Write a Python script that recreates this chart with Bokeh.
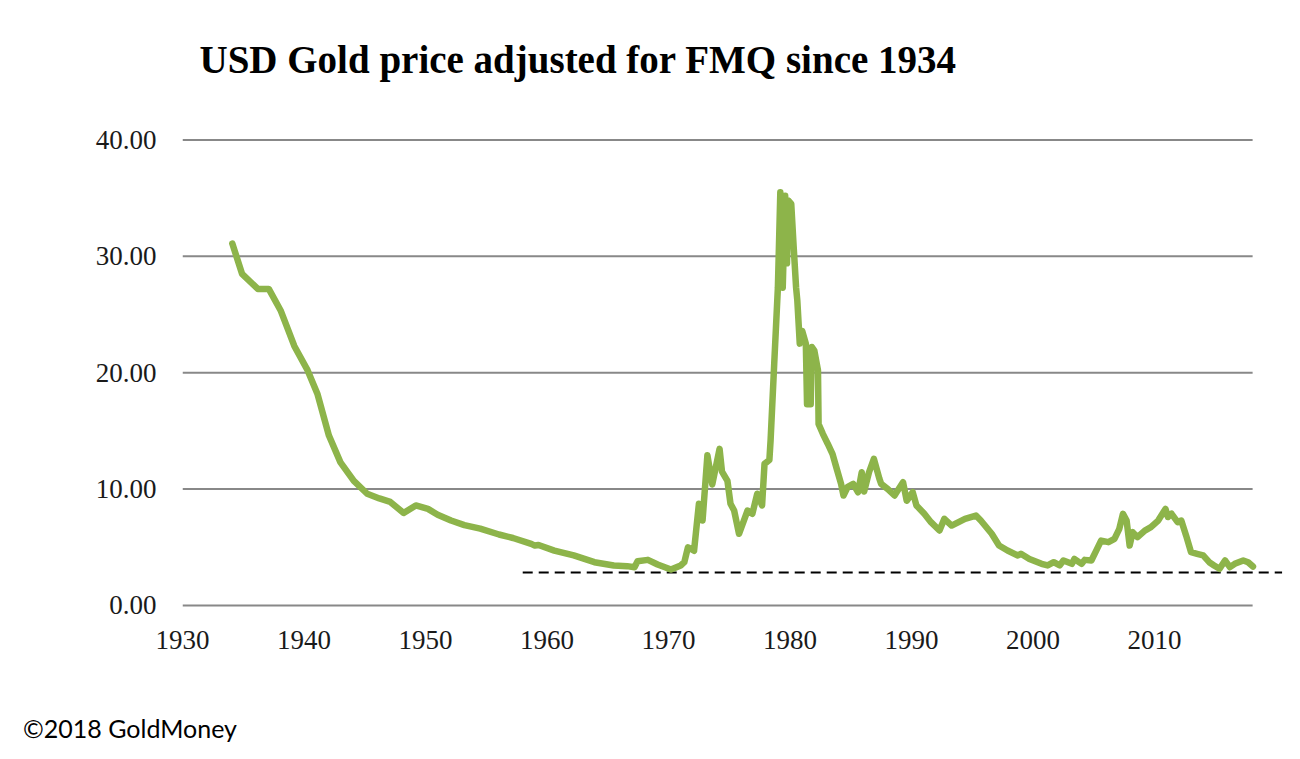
from bokeh.plotting import figure
from bokeh.layouts import column
from bokeh.models import Range1d, FixedTicker, NumeralTickFormatter, Title, Div
from bokeh.embed import file_html
from bokeh.resources import INLINE

# ---- data ----
years = [
    1934.1, 1934.9, 1936.2, 1937.1, 1938.1, 1939.2, 1940.3, 1941.1, 1942.05, 1943.0,
    1944.1, 1945.2, 1946.2, 1947.1, 1948.2, 1949.2, 1950.2, 1951.0, 1952.1, 1953.2,
    1954.5, 1956.05, 1957.2, 1958.7, 1959.0, 1959.3, 1960.6, 1962.2, 1963.9, 1965.5,
    1966.6, 1967.2, 1967.45, 1968.3, 1969.1, 1970.2, 1971.0, 1971.3, 1971.6, 1972.1,
    1972.5, 1972.8, 1973.2, 1973.6, 1974.2, 1974.4, 1974.85, 1975.1, 1975.4, 1975.8,
    1976.2, 1976.5, 1976.9, 1977.3, 1977.7, 1977.9, 1978.3, 1978.4, 1978.7, 1979.0,
    1979.2, 1979.4, 1979.6, 1979.75, 1979.85, 1980.1, 1980.3, 1980.5, 1980.6, 1980.8,
    1981.0, 1981.3, 1981.4, 1981.7, 1981.8, 1982.0, 1982.3, 1982.35, 1982.7, 1983.1,
    1983.5, 1983.8, 1984.2, 1984.4, 1984.75, 1985.2, 1985.6, 1985.9, 1986.1, 1986.5,
    1986.9, 1987.35, 1987.5, 1988.05, 1988.6, 1989.3, 1989.6, 1990.1, 1990.4, 1991.05,
    1991.6, 1992.3, 1992.7, 1993.3, 1994.4, 1995.3, 1995.7, 1996.6, 1997.2, 1997.9,
    1998.75, 1999.0, 1999.7, 2000.7, 2001.2, 2001.7, 2002.2, 2002.5, 2003.2, 2003.4,
    2004.0, 2004.25, 2004.8, 2005.2, 2005.6, 2006.2, 2006.7, 2007.1, 2007.4, 2007.7,
    2007.95, 2008.2, 2008.6, 2009.2, 2009.7, 2010.3, 2010.9, 2011.1, 2011.4, 2011.9,
    2012.2, 2012.6, 2013.0, 2013.5, 2014.0, 2014.5, 2014.9, 2015.35, 2015.8, 2016.2,
    2016.6, 2017.3, 2017.7, 2018.1,
]
fmq_price = [
    31.1, 28.5, 27.2, 27.2, 25.3, 22.3, 20.2, 18.2, 14.6, 12.3,
    10.7, 9.6, 9.2, 8.9, 7.95, 8.6, 8.3, 7.8, 7.3, 6.9,
    6.6, 6.1, 5.8, 5.3, 5.15, 5.2, 4.72, 4.3, 3.72, 3.44,
    3.38, 3.29, 3.8, 3.92, 3.52, 3.09, 3.44, 3.72, 5.0, 4.7,
    8.74, 7.3, 12.9, 10.4, 13.46, 11.5, 10.7, 8.74, 8.16, 6.16,
    7.3, 8.16, 7.88, 9.6, 8.6, 12.17, 12.5, 14.2, 20.8, 27.3,
    35.5, 27.3, 35.2, 29.4, 34.8, 34.5, 30.8, 27.3, 26.2, 22.5,
    23.6, 22.5, 17.3, 17.3, 22.2, 21.9, 20.2, 15.6, 14.75, 13.9,
    13.0, 11.9, 10.45, 9.45, 10.2, 10.45, 9.73, 11.45, 9.8, 11.45,
    12.6, 10.9, 10.45, 10.0, 9.45, 10.6, 9.0, 9.73, 8.6, 7.88,
    7.16, 6.44, 7.45, 6.87, 7.45, 7.73, 7.3, 6.16, 5.15, 4.72,
    4.3, 4.44, 4.0, 3.58, 3.44, 3.72, 3.44, 3.87, 3.58, 4.0,
    3.58, 3.92, 3.87, 4.72, 5.58, 5.44, 5.73, 6.59, 7.88, 7.3,
    5.15, 6.3, 5.87, 6.44, 6.73, 7.3, 8.3, 7.6, 7.88, 7.16,
    7.3, 6.0, 4.58, 4.44, 4.3, 3.72, 3.44, 3.15, 3.87, 3.29,
    3.58, 3.87, 3.72, 3.35,
]
floor_years = [1958.0, 2020.5]
floor_level = [2.83, 2.83]

x_ticks = [1930, 1940, 1950, 1960, 1970, 1980, 1990, 2000, 2010]
y_ticks = [0, 10, 20, 30, 40]

title_text = "USD Gold price adjusted for FMQ since 1934"
footer_text = "\u00a92018 GoldMoney"

# ---- layout ----
X0, X1 = 1930.0, 2020.53
GRID_END = 2018.07
Y0, Y1 = -0.43, 43.39

p = figure(width=1292, height=700, output_backend="svg", toolbar_location=None,
           x_range=Range1d(X0, X1), y_range=Range1d(Y0, Y1),
           min_border_left=182, min_border_right=10,
           min_border_top=100, min_border_bottom=90)
p.outline_line_color = None
p.xgrid.visible = False
p.ygrid.visible = False
p.background_fill_color = "white"
p.border_fill_color = "white"

# horizontal gridlines
p.segment(x0=[X0] * len(y_ticks), x1=[GRID_END] * len(y_ticks), y0=y_ticks, y1=y_ticks,
          line_color="#888888", line_width=2)

# dashed floor line
p.line(floor_years, floor_level, line_color="black", line_width=2, line_dash="10 6")

# main series
p.line(years, fmq_price, line_color="#8DB44A", line_width=6.5, line_join="round", line_cap="round")

for ax in (p.xaxis[0], p.yaxis[0]):
    ax.axis_line_color = None
    ax.major_tick_line_color = None
    ax.minor_tick_line_color = None
    ax.major_tick_in = 0
    ax.major_tick_out = 0
    ax.minor_tick_out = 0
    ax.major_label_text_font = "Liberation Serif"
    ax.major_label_text_font_size = "27px"
    ax.major_label_text_color = "#1a1a1a"

p.xaxis[0].ticker = FixedTicker(ticks=x_ticks)
p.xaxis[0].major_label_standoff = 20
p.yaxis[0].ticker = FixedTicker(ticks=y_ticks)
p.yaxis[0].formatter = NumeralTickFormatter(format="0.00")
p.yaxis[0].major_label_standoff = 26

p.add_layout(Title(text=title_text, text_font="Liberation Serif", text_font_style="bold",
                   text_font_size="39px", text_color="black", align="left",
                   offset=17, standoff=40), "above")

# footer line of text
footer = Div(text=footer_text, width=1292, height=59,
             styles={"font-family": "Lato", "font-size": "25px", "color": "black",
                     "padding-left": "23px", "padding-top": "13px",
                     "line-height": "30px", "margin": "0"})

layout = column(p, footer, spacing=0)
open("out.html", "w").write(file_html(layout, INLINE))
